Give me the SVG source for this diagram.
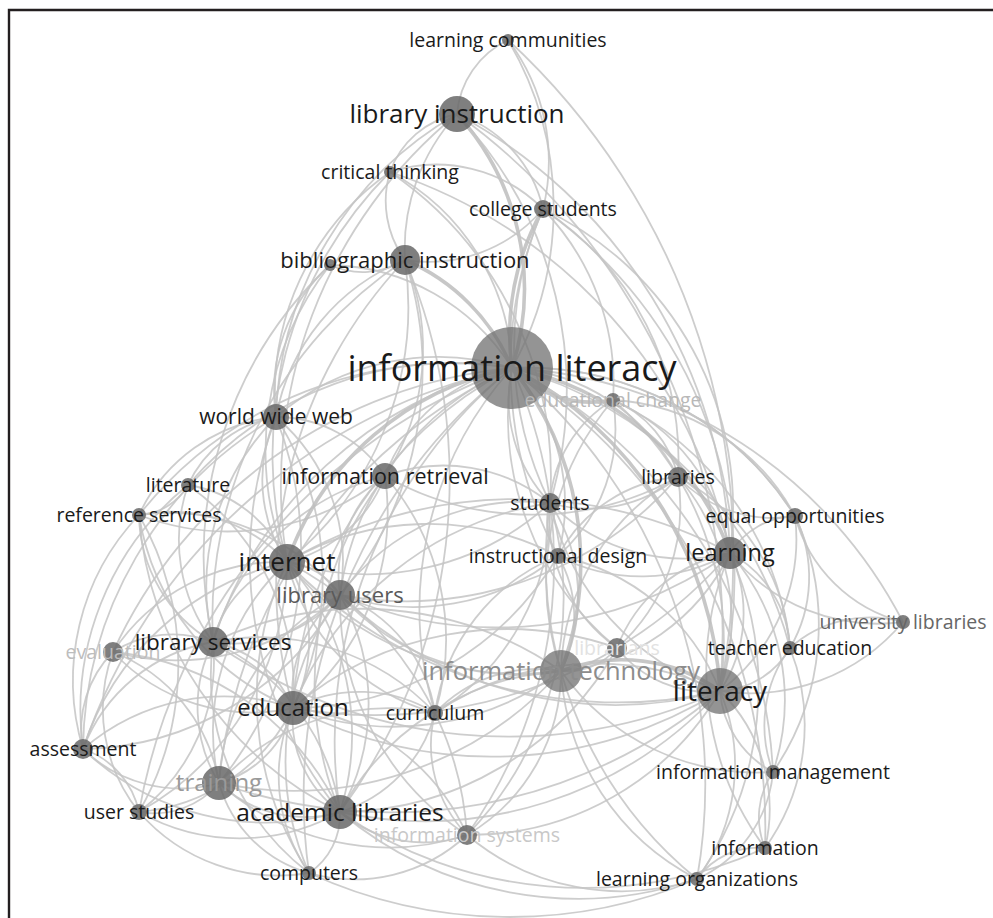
<svg xmlns="http://www.w3.org/2000/svg" width="993" height="918" viewBox="0 0 993 918">
<style>
.e path{fill:none;stroke:#c4c4c4;stroke-width:1.8;stroke-opacity:.85}
.e path.h{stroke-width:3.6;stroke:#bdbdbd}
.n{fill:#686868;fill-opacity:.85}
.big{fill:#707070;fill-opacity:.75}
text{font-family:"Open Sans","DejaVu Sans",sans-serif;text-anchor:middle;fill:#1a1a1a}
.s{font-size:19.5px}
</style>
<rect width="993" height="918" fill="#fff"/>
<path d="M9,918 V10 H993" fill="none" stroke="#231f20" stroke-width="2.4"/>
<g id="connectors" class="e">
<path d="M508,40 A90,90 0 0 0 457,114"/>
<path d="M508,40 A200,200 0 0 1 543,209"/>
<path d="M508,40 A330,330 0 0 1 512,368"/>
<path d="M508,40 A700,700 0 0 1 720,691"/>
<path class="h" d="M457,114 A260,260 0 0 1 512,368"/>
<path d="M457,114 A90,90 0 0 0 390,172"/>
<path d="M457,114 A130,130 0 0 1 543,209"/>
<path d="M457,114 A200,200 0 0 0 405,260"/>
<path d="M457,114 A360,360 0 0 0 276,417"/>
<path d="M457,114 A480,480 0 0 0 287,562"/>
<path d="M457,114 A400,400 0 0 1 550,503"/>
<path d="M457,114 A520,520 0 0 1 730,553"/>
<path d="M457,114 A640,640 0 0 1 720,691"/>
<path d="M390,172 A150,150 0 0 1 543,209"/>
<path d="M390,172 A230,230 0 0 1 512,368"/>
<path d="M390,172 A100,100 0 0 0 405,260"/>
<path d="M390,172 A270,270 0 0 0 276,417"/>
<path d="M390,172 A400,400 0 0 0 287,562"/>
<path d="M390,172 A370,370 0 0 1 550,503"/>
<path d="M390,172 A510,510 0 0 1 730,553"/>
<path class="h" d="M543,209 A250,250 0 0 0 512,368"/>
<path d="M543,209 A150,150 0 0 1 405,260"/>
<path d="M543,209 A300,300 0 0 1 678,477"/>
<path d="M543,209 A330,330 0 0 1 730,553"/>
<path d="M543,209 A350,350 0 0 0 550,503"/>
<path d="M543,209 A250,250 0 0 1 613,400"/>
<path d="M543,209 A400,400 0 0 0 558,556"/>
<path d="M543,209 A450,450 0 0 1 720,691"/>
<path class="h" d="M405,260 A200,200 0 0 1 512,368"/>
<path d="M405,260 A80,80 0 0 1 330,265"/>
<path d="M405,260 A210,210 0 0 0 276,417"/>
<path d="M405,260 A330,330 0 0 1 287,562"/>
<path d="M405,260 A230,230 0 0 1 385,476"/>
<path d="M405,260 A430,430 0 0 0 213,642"/>
<path d="M405,260 A350,350 0 0 1 340,595"/>
<path d="M405,260 A470,470 0 0 0 293,708"/>
<path d="M405,260 A560,560 0 0 1 340,812"/>
<path d="M330,265 A220,220 0 0 1 512,368"/>
<path d="M330,265 A300,300 0 0 0 287,562"/>
<path d="M330,265 A170,170 0 0 0 276,417"/>
<path d="M330,265 A400,400 0 0 0 213,642"/>
<path class="h" d="M613,400 A110,110 0 0 1 512,368"/>
<path d="M613,400 A110,110 0 0 1 678,477"/>
<path d="M613,400 A200,200 0 0 1 730,553"/>
<path d="M613,400 A320,320 0 0 1 720,691"/>
<path d="M613,400 A130,130 0 0 0 550,503"/>
<path d="M613,400 A310,310 0 0 1 790,648"/>
<path d="M613,400 A220,220 0 0 1 795,516"/>
<path d="M613,400 A280,280 0 0 0 561,671"/>
<path d="M613,400 A170,170 0 0 1 558,556"/>
<path d="M276,417 A250,250 0 0 1 512,368"/>
<path d="M276,417 A150,150 0 0 0 287,562"/>
<path d="M276,417 A130,130 0 0 1 385,476"/>
<path d="M276,417 A240,240 0 0 0 213,642"/>
<path d="M276,417 A190,190 0 0 1 340,595"/>
<path d="M276,417 A300,300 0 0 1 293,708"/>
<path d="M276,417 A170,170 0 0 0 139,515"/>
<path d="M276,417 A120,120 0 0 0 188,485"/>
<path d="M276,417 A400,400 0 0 0 340,812"/>
<path d="M276,417 A370,370 0 0 1 219,783"/>
<path d="M276,417 A390,390 0 0 0 83,749"/>
<path d="M385,476 A170,170 0 0 1 512,368"/>
<path d="M385,476 A140,140 0 0 1 287,562"/>
<path d="M385,476 A130,130 0 0 0 340,595"/>
<path d="M385,476 A240,240 0 0 0 213,642"/>
<path d="M385,476 A250,250 0 0 1 293,708"/>
<path d="M385,476 A340,340 0 0 0 340,812"/>
<path d="M385,476 A170,170 0 0 1 550,503"/>
<path d="M385,476 A250,250 0 0 1 139,515"/>
<path d="M385,476 A250,250 0 0 1 435,713"/>
<path d="M385,476 A300,300 0 0 0 678,477"/>
<path d="M188,485 A60,60 0 0 1 139,515"/>
<path d="M188,485 A170,170 0 0 0 213,642"/>
<path d="M188,485 A130,130 0 0 1 287,562"/>
<path d="M188,485 A350,350 0 0 1 512,368"/>
<path d="M188,485 A250,250 0 0 1 293,708"/>
<path d="M188,485 A290,290 0 0 0 83,749"/>
<path d="M139,515 A160,160 0 0 1 287,562"/>
<path d="M139,515 A150,150 0 0 0 213,642"/>
<path d="M139,515 A220,220 0 0 1 340,595"/>
<path d="M139,515 A360,360 0 0 0 340,812"/>
<path d="M139,515 A400,400 0 0 1 512,368"/>
<path d="M139,515 A300,300 0 0 1 139,812"/>
<path d="M139,515 A250,250 0 0 0 293,708"/>
<path d="M678,477 A200,200 0 0 0 512,368"/>
<path d="M678,477 A100,100 0 0 1 730,553"/>
<path d="M678,477 A140,140 0 0 1 550,503"/>
<path d="M678,477 A220,220 0 0 1 720,691"/>
<path d="M678,477 A130,130 0 0 0 795,516"/>
<path d="M678,477 A230,230 0 0 0 561,671"/>
<path d="M678,477 A210,210 0 0 1 790,648"/>
<path d="M678,477 A190,190 0 0 1 617,648"/>
<path d="M678,477 A150,150 0 0 0 558,556"/>
<path d="M678,477 A360,360 0 0 1 340,595"/>
<path d="M550,503 A150,150 0 0 1 512,368"/>
<path d="M550,503 A190,190 0 0 0 730,553"/>
<path d="M550,503 A60,60 0 0 0 558,556"/>
<path d="M550,503 A170,170 0 0 1 561,671"/>
<path d="M550,503 A260,260 0 0 0 720,691"/>
<path d="M550,503 A230,230 0 0 0 340,595"/>
<path d="M550,503 A270,270 0 0 1 287,562"/>
<path d="M550,503 A160,160 0 0 0 617,648"/>
<path d="M550,503 A330,330 0 0 0 293,708"/>
<path d="M550,503 A240,240 0 0 1 435,713"/>
<path d="M550,503 A410,410 0 0 0 697,879"/>
<path d="M550,503 A340,340 0 0 1 467,835"/>
<path d="M795,516 A80,80 0 0 0 730,553"/>
<path d="M795,516 A190,190 0 0 1 720,691"/>
<path d="M795,516 A150,150 0 0 0 903,622"/>
<path d="M795,516 A140,140 0 0 1 790,648"/>
<path d="M795,516 A320,320 0 0 0 512,368"/>
<path d="M795,516 A260,260 0 0 1 773,772"/>
<path d="M558,556 A200,200 0 0 0 512,368"/>
<path d="M558,556 A180,180 0 0 0 730,553"/>
<path d="M558,556 A120,120 0 0 1 561,671"/>
<path d="M558,556 A220,220 0 0 1 720,691"/>
<path d="M558,556 A230,230 0 0 1 340,595"/>
<path d="M558,556 A280,280 0 0 0 287,562"/>
<path d="M558,556 A310,310 0 0 1 293,708"/>
<path d="M558,556 A200,200 0 0 0 435,713"/>
<path d="M730,553 A140,140 0 0 1 720,691"/>
<path d="M730,553 A115,115 0 0 1 790,648"/>
<path d="M730,553 A190,190 0 0 0 903,622"/>
<path d="M730,553 A210,210 0 0 1 561,671"/>
<path d="M730,553 A150,150 0 0 0 617,648"/>
<path d="M730,553 A225,225 0 0 1 773,772"/>
<path d="M730,553 A300,300 0 0 0 765,848"/>
<path d="M730,553 A330,330 0 0 1 697,879"/>
<path d="M730,553 A470,470 0 0 1 293,708"/>
<path d="M730,553 A450,450 0 0 0 287,562"/>
<path d="M730,553 A400,400 0 0 1 340,595"/>
<path class="h" d="M287,562 A300,300 0 0 1 512,368"/>
<path d="M287,562 A70,70 0 0 1 340,595"/>
<path d="M287,562 A110,110 0 0 0 213,642"/>
<path d="M287,562 A150,150 0 0 1 293,708"/>
<path d="M287,562 A230,230 0 0 0 219,783"/>
<path d="M287,562 A260,260 0 0 1 340,812"/>
<path d="M287,562 A200,200 0 0 0 113,652"/>
<path d="M287,562 A280,280 0 0 0 83,749"/>
<path d="M287,562 A210,210 0 0 0 435,713"/>
<path d="M287,562 A300,300 0 0 0 561,671"/>
<path d="M287,562 A460,460 0 0 0 720,691"/>
<path d="M287,562 A320,320 0 0 0 309,873"/>
<path d="M287,562 A290,290 0 0 1 139,812"/>
<path d="M287,562 A330,330 0 0 1 467,835"/>
<path d="M340,595 A290,290 0 0 1 512,368"/>
<path d="M340,595 A140,140 0 0 1 213,642"/>
<path d="M340,595 A125,125 0 0 0 293,708"/>
<path d="M340,595 A220,220 0 0 1 340,812"/>
<path d="M340,595 A225,225 0 0 0 219,783"/>
<path d="M340,595 A150,150 0 0 1 435,713"/>
<path d="M340,595 A240,240 0 0 0 561,671"/>
<path d="M340,595 A400,400 0 0 0 720,691"/>
<path d="M340,595 A300,300 0 0 1 83,749"/>
<path d="M340,595 A280,280 0 0 0 309,873"/>
<path d="M340,595 A240,240 0 0 1 113,652"/>
<path d="M340,595 A280,280 0 0 0 467,835"/>
<path d="M903,622 A200,200 0 0 1 720,691"/>
<path d="M903,622 A120,120 0 0 0 790,648"/>
<path d="M213,642 A410,410 0 0 1 512,368"/>
<path d="M213,642 A110,110 0 0 0 113,652"/>
<path d="M213,642 A110,110 0 0 1 293,708"/>
<path d="M213,642 A145,145 0 0 0 219,783"/>
<path d="M213,642 A220,220 0 0 1 340,812"/>
<path d="M213,642 A170,170 0 0 0 83,749"/>
<path d="M213,642 A190,190 0 0 1 139,812"/>
<path d="M213,642 A240,240 0 0 1 435,713"/>
<path d="M213,642 A350,350 0 0 1 561,671"/>
<path d="M213,642 A510,510 0 0 0 720,691"/>
<path d="M213,642 A250,250 0 0 0 309,873"/>
<path d="M113,652 A110,110 0 0 0 83,749"/>
<path d="M113,652 A170,170 0 0 1 219,783"/>
<path d="M113,652 A190,190 0 0 0 293,708"/>
<path d="M113,652 A280,280 0 0 1 340,812"/>
<path d="M113,652 A165,165 0 0 0 139,812"/>
<path d="M113,652 A490,490 0 0 1 512,368"/>
<path d="M790,648 A85,85 0 0 1 720,691"/>
<path d="M790,648 A130,130 0 0 0 773,772"/>
<path d="M790,648 A210,210 0 0 1 765,848"/>
<path d="M617,648 A65,65 0 0 1 561,671"/>
<path d="M617,648 A115,115 0 0 0 720,691"/>
<path d="M617,648 A300,300 0 0 1 512,368"/>
<path d="M617,648 A330,330 0 0 0 293,708"/>
<path d="M617,648 A320,320 0 0 1 340,812"/>
<path class="h" d="M561,671 A170,170 0 0 1 720,691"/>
<path class="h" d="M561,671 A310,310 0 0 0 512,368"/>
<path d="M561,671 A280,280 0 0 1 293,708"/>
<path d="M561,671 A140,140 0 0 0 435,713"/>
<path d="M561,671 A270,270 0 0 0 340,812"/>
<path d="M561,671 A360,360 0 0 1 219,783"/>
<path d="M561,671 A190,190 0 0 1 467,835"/>
<path d="M561,671 A240,240 0 0 0 773,772"/>
<path d="M561,671 A250,250 0 0 0 697,879"/>
<path class="h" d="M512,368 A390,390 0 0 1 720,691"/>
<path d="M720,691 A100,100 0 0 0 773,772"/>
<path d="M720,691 A165,165 0 0 1 765,848"/>
<path d="M720,691 A190,190 0 0 1 697,879"/>
<path d="M720,691 A430,430 0 0 1 293,708"/>
<path d="M720,691 A290,290 0 0 0 435,713"/>
<path d="M720,691 A400,400 0 0 1 340,812"/>
<path d="M720,691 A290,290 0 0 1 467,835"/>
<path d="M720,691 A510,510 0 0 1 219,783"/>
<path d="M293,708 A410,410 0 0 1 512,368"/>
<path d="M293,708 A115,115 0 0 0 340,812"/>
<path d="M293,708 A105,105 0 0 1 219,783"/>
<path d="M293,708 A145,145 0 0 1 435,713"/>
<path d="M293,708 A215,215 0 0 0 83,749"/>
<path d="M293,708 A190,190 0 0 1 139,812"/>
<path d="M293,708 A170,170 0 0 0 309,873"/>
<path d="M293,708 A215,215 0 0 1 467,835"/>
<path d="M435,713 A140,140 0 0 1 340,812"/>
<path d="M435,713 A130,130 0 0 0 467,835"/>
<path d="M435,713 A230,230 0 0 0 219,783"/>
<path d="M435,713 A360,360 0 0 1 512,368"/>
<path d="M83,749 A140,140 0 0 0 219,783"/>
<path d="M83,749 A85,85 0 0 1 139,812"/>
<path d="M83,749 A265,265 0 0 0 340,812"/>
<path d="M83,749 A580,580 0 0 1 512,368"/>
<path d="M83,749 A240,240 0 0 1 139,515"/>
<path d="M773,772 A80,80 0 0 0 765,848"/>
<path d="M773,772 A130,130 0 0 1 697,879"/>
<path d="M219,783 A125,125 0 0 0 340,812"/>
<path d="M219,783 A85,85 0 0 1 139,812"/>
<path d="M219,783 A130,130 0 0 0 309,873"/>
<path d="M219,783 A510,510 0 0 1 512,368"/>
<path d="M219,783 A255,255 0 0 0 467,835"/>
<path d="M139,812 A205,205 0 0 0 340,812"/>
<path d="M139,812 A185,185 0 0 0 309,873"/>
<path d="M139,812 A580,580 0 0 1 512,368"/>
<path d="M340,812 A480,480 0 0 1 512,368"/>
<path d="M340,812 A70,70 0 0 1 309,873"/>
<path d="M340,812 A130,130 0 0 0 467,835"/>
<path d="M340,812 A370,370 0 0 0 697,879"/>
<path d="M340,812 A430,430 0 0 0 765,848"/>
<path d="M467,835 A240,240 0 0 0 697,879"/>
<path d="M467,835 A165,165 0 0 1 309,873"/>
<path d="M467,835 A470,470 0 0 0 512,368"/>
<path d="M765,848 A75,75 0 0 0 697,879"/>
<path d="M309,873 A480,480 0 0 0 697,879"/>
<path d="M309,873 A545,545 0 0 1 512,368"/>
<path d="M512,368 A545,545 0 0 1 765,848"/>
<path d="M512,368 A545,545 0 0 1 697,879"/>
<path d="M512,368 A480,480 0 0 1 773,772"/>
<path d="M512,368 A395,395 0 0 1 790,648"/>
<path d="M512,368 A320,320 0 0 1 795,516"/>
<path d="M512,368 A470,470 0 0 1 903,622"/>
<path class="h" d="M512,368 A290,290 0 0 1 730,553"/>
</g>
<g id="n-information-literacy"><circle class="big" cx="512" cy="368" r="41"/><text x="512" y="381" font-size="36">information literacy</text></g>
<g id="n-librarians"><circle class="n" cx="617" cy="648" r="10"/><text class="s" x="617" y="655" style="fill:#e2e2e2">librarians</text></g>
<g id="n-information-technology"><circle class="big" cx="561" cy="671" r="21"/><text x="561" y="680" font-size="25.5" style="fill:#8c8c8c">information technology</text></g>
<g id="n-training"><circle class="n" cx="219" cy="783" r="17"/><text x="219" y="791" font-size="24" style="fill:#9a9a9a">training</text></g>
<g id="n-information-systems"><circle class="n" cx="467" cy="835" r="10"/><text class="s" x="467" y="842" style="fill:#c8c8c8">information systems</text></g>
<g id="n-educational-change"><circle class="n" cx="613" cy="400" r="7"/><text class="s" x="613" y="407" style="fill:#b8b8b8">educational change</text></g>
<g id="n-evaluation"><circle class="n" cx="113" cy="652" r="10"/><text class="s" x="113" y="659" style="fill:#bdbdbd">evaluation</text></g>
<g id="n-university-libraries"><circle class="n" cx="903" cy="622" r="7"/><text class="s" x="903" y="629" style="fill:#666">university libraries</text></g>
<g id="n-library-users"><circle class="n" cx="340" cy="595" r="15"/><text x="340" y="603" font-size="22" style="fill:#5a5a5a">library users</text></g>
<g id="n-learning-communities"><circle class="n" cx="508" cy="40" r="6"/><text class="s" x="508" y="47">learning communities</text></g>
<g id="n-library-instruction"><circle class="n" cx="457" cy="114" r="18"/><text x="457" y="123" font-size="26">library instruction</text></g>
<g id="n-critical-thinking"><circle class="n" cx="390" cy="172" r="6"/><text class="s" x="390" y="179">critical thinking</text></g>
<g id="n-college-students"><circle class="n" cx="543" cy="209" r="9"/><text class="s" x="543" y="216">college students</text></g>
<g id="n-unlabeled"><circle class="n" cx="330" cy="265" r="6"/></g>
<g id="n-bibliographic-instruction"><circle class="n" cx="405" cy="260" r="15"/><text x="405" y="268" font-size="22">bibliographic instruction</text></g>
<g id="n-world-wide-web"><circle class="n" cx="276" cy="417" r="13"/><text x="276" y="424" font-size="21">world wide web</text></g>
<g id="n-information-retrieval"><circle class="n" cx="385" cy="476" r="13"/><text x="385" y="484" font-size="21.5">information retrieval</text></g>
<g id="n-literature"><circle class="n" cx="188" cy="485" r="7"/><text class="s" x="188" y="492">literature</text></g>
<g id="n-reference-services"><circle class="n" cx="139" cy="515" r="7"/><text class="s" x="139" y="522">reference services</text></g>
<g id="n-libraries"><circle class="n" cx="678" cy="477" r="10"/><text class="s" x="678" y="484">libraries</text></g>
<g id="n-students"><circle class="n" cx="550" cy="503" r="10"/><text class="s" x="550" y="510">students</text></g>
<g id="n-equal-opportunities"><circle class="n" cx="795" cy="516" r="8"/><text class="s" x="795" y="523">equal opportunities</text></g>
<g id="n-instructional-design"><circle class="n" cx="558" cy="556" r="8"/><text class="s" x="558" y="563">instructional design</text></g>
<g id="n-learning"><circle class="n" cx="730" cy="553" r="16"/><text x="730" y="561" font-size="23.5">learning</text></g>
<g id="n-internet"><circle class="n" cx="287" cy="562" r="18"/><text x="287" y="571" font-size="26">internet</text></g>
<g id="n-library-services"><circle class="n" cx="213" cy="642" r="15"/><text x="213" y="650" font-size="22.5">library services</text></g>
<g id="n-teacher-education"><circle class="n" cx="790" cy="648" r="7"/><text class="s" x="790" y="655">teacher education</text></g>
<g id="n-literacy"><circle class="big" cx="720" cy="691" r="23"/><text x="720" y="701" font-size="28">literacy</text></g>
<g id="n-education"><circle class="n" cx="293" cy="708" r="17"/><text x="293" y="716" font-size="24">education</text></g>
<g id="n-curriculum"><circle class="n" cx="435" cy="713" r="8"/><text class="s" x="435" y="720">curriculum</text></g>
<g id="n-assessment"><circle class="n" cx="83" cy="749" r="10"/><text class="s" x="83" y="756">assessment</text></g>
<g id="n-information-management"><circle class="n" cx="773" cy="772" r="7"/><text class="s" x="773" y="779">information management</text></g>
<g id="n-user-studies"><circle class="n" cx="139" cy="812" r="8"/><text class="s" x="139" y="819">user studies</text></g>
<g id="n-academic-libraries"><circle class="n" cx="340" cy="812" r="17"/><text x="340" y="821" font-size="24.5">academic libraries</text></g>
<g id="n-information"><circle class="n" cx="765" cy="848" r="7"/><text class="s" x="765" y="855">information</text></g>
<g id="n-computers"><circle class="n" cx="309" cy="873" r="7"/><text class="s" x="309" y="880">computers</text></g>
<g id="n-learning-organizations"><circle class="n" cx="697" cy="879" r="7"/><text class="s" x="697" y="886">learning organizations</text></g>
</svg>
